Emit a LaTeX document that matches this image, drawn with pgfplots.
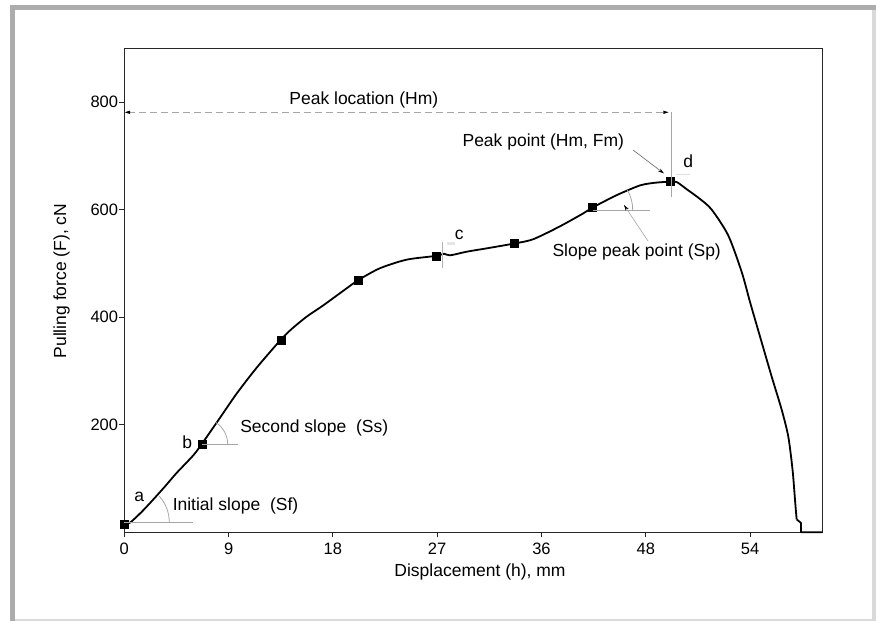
\documentclass[border=0pt]{standalone}
\usepackage{fontspec}
\setmainfont{Liberation Sans}
\usepackage{pgfplots}
\pgfplotsset{compat=1.18}
\usetikzlibrary{arrows.meta}
\begin{document}
\fontsize{17.5pt}{21pt}\selectfont
\begin{tikzpicture}
\useasboundingbox (0,0) rectangle (876pt,621pt);
\fill[white] (0,0) rectangle (876pt,621pt);
\fill[gray!65] (10pt,0pt) rectangle (15pt,616pt);
\fill[gray!65] (10pt,611pt) rectangle (876pt,616pt);
\fill[gray!30] (871.5pt,0pt) rectangle (876pt,611pt);
\fill[gray!30] (15pt,0pt) rectangle (876pt,1.5pt);
\begin{axis}[
  at={(124.3pt,88.7pt)}, anchor=south west,
  scale only axis, width=698.4pt, height=484pt,
  xmin=0, xmax=60.27, ymin=0, ymax=900,
  xtick={0,9,18,27,36,45,54}, xticklabels={0,9,18,27,36,48,54},
  ytick={200,400,600,800},
  tick align=outside, tick pos=left,
  major tick length=5pt,
  axis line style={black!85, line width=1pt},
  tick style={black!85, line width=0.8pt},
  ticklabel style={font=\fontsize{16.5pt}{19pt}\selectfont},
  /pgf/number format/assume math mode=true,
  yticklabel style={inner sep=1pt},
  clip=false,
]
\addplot[black, line width=1.8pt, line join=round, smooth, tension=0.45] coordinates {
(0.0,15) (0.5,18) (1.5,38) (2.5,61) (3.5,85) (4.5,110) (5.95,143) (6.68,164)
(8.26,213) (9.7,258) (11.42,306) (13.5,358) (14.44,378) (15.74,401) (17.17,422)
(18.7,446) (20.2,469) (22.06,491) (24.37,507) (26.9,514) (27.6,518) (28.1,515)
(29.6,522) (31.27,528) (33.65,537) (35.29,545) (37.6,569) (39.6,593) (40.42,604)
(42.5,627) (44.5,645) (45.8,650) (47.15,652) (47.7,651) (48.53,638) (49.67,620)
(50.69,600) (52.12,552) (53.28,484) (54.0,428) (54.86,364) (55.86,290) (56.73,228)
(57.3,178) (57.67,116) (57.9,55) (58.02,24)
};
\addplot[black, line width=1.8pt, line join=round] coordinates {
(58.02,24) (58.4,17.5) (58.4,0) (60.27,0)
};
\addplot[only marks, mark=square*, mark size=4pt, black] coordinates {
(0,15) (6.68,164) (13.5,358) (20.2,469) (26.9,514) (33.65,537) (40.42,604) (47.15,652)
};
\end{axis}
\begin{scope}[shift={(0pt,621pt)}, x=1pt, y=-1pt]
\draw[gray!70, line width=0.8pt, dash pattern=on 7pt off 4pt] (128,112.3) -- (665,112.3);
\fill[black] (124.8,112.3) -- (130,110.6) -- (130,114.0) -- cycle;
\fill[black] (668.5,112.3) -- (663.3,110.6) -- (663.3,114.0) -- cycle;
\draw[gray!70, line width=0.8pt] (671,112.3) -- (671,197);
\node at (363.8,100) {Peak location (Hm)};
\node at (543.3,141.7) {Peak point (Hm, Fm)};
\draw[black!60, line width=0.6pt, -{Stealth[length=6pt,width=3.5pt,black]}] (633,150) -- (664,173.5);
\node at (688.3,161.7) {d};
\draw[gray!25, line width=1pt] (676,175) -- (690,175);
\draw[gray!70, line width=0.8pt] (592.7,210) -- (650,210);
\draw[gray!70, line width=0.8pt] (632.7,210) arc[start angle=0, end angle=30, radius=40pt];
\node at (636.7,251.7) {Slope peak point (Sp)};
\draw[gray!70, line width=0.6pt, -{Stealth[length=6pt,width=3.5pt,black]}] (648,241) -- (624,205);
\node at (459.3,235) {c};
\draw[gray!60, line width=0.8pt] (442.3,241.7) -- (442.3,268.3);
\fill[gray!20] (446.5,242) rectangle (455,245);
\node at (314.2,427.7) {Second slope~~(Ss)};
\node at (187.3,442.7) {b};
\draw[gray!70, line width=0.8pt] (201.7,444.3) -- (238.3,444.3);
\draw[gray!70, line width=0.8pt] (227.7,444.3) arc[start angle=0, end angle=57, radius=26pt];
\node at (235.5,506) {Initial slope~~(Sf)};
\node at (139.3,497.3) {a};
\draw[gray!70, line width=0.8pt] (124.3,522.3) -- (193.3,522.3);
\draw[gray!70, line width=0.8pt] (169.3,522.3) arc[start angle=0, end angle=42, radius=39pt];
\node at (480,571.7) {Displacement (h), mm};
\node[rotate=90] at (61.7,281) {Pulling force (F), cN};
\end{scope}
\end{tikzpicture}
\end{document}
